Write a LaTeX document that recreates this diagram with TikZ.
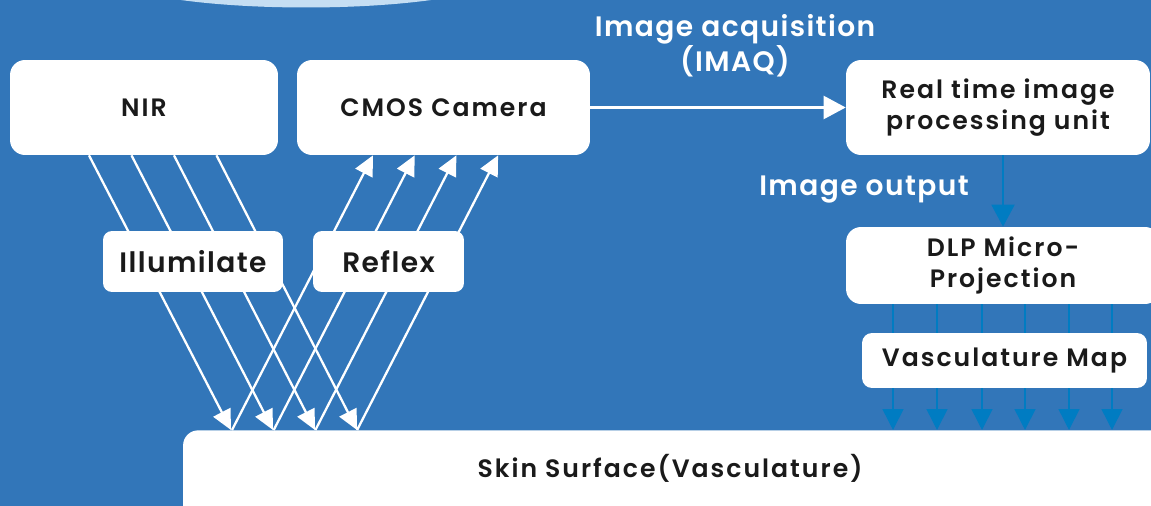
\documentclass[tikz,border=0pt]{standalone}
\usepackage{fontspec}
\setmainfont{Poppins}[BoldFont={Poppins SemiBold}]
\newfontfamily\widefont{Poppins}[BoldFont={Poppins SemiBold},LetterSpace=8]
\newfontfamily\midfont{Poppins}[BoldFont={Poppins SemiBold},LetterSpace=5]
\usetikzlibrary{arrows.meta}

\definecolor{bgblue}{RGB}{50,118,185}
\definecolor{skyblue}{RGB}{197,222,243}
\definecolor{mapblue}{RGB}{0,124,194}
\definecolor{ink}{RGB}{26,26,26}

\tikzset{
    box/.style={fill=white, rounded corners=0.3cm, text=ink, align=center,
        font=\widefont\bfseries\fontsize{14.3}{18}\selectfont, inner sep=0pt},
    tag/.style={box, rounded corners=0.18cm, font=\midfont\bfseries\fontsize{16}{19}\selectfont},
    note/.style={text=white, align=center, font=\midfont\bfseries\fontsize{16}{19.8}\selectfont},
    ray/.style={draw=white, line width=1.3pt, -{Triangle[length=0.4cm,width=0.38cm]}},
    flow/.style={draw=white, line width=1.3pt, -{Triangle[length=0.44cm,width=0.46cm]}},
    beam/.style={draw=mapblue, line width=0.9pt, -{Triangle[length=0.42cm,width=0.42cm]}}
}

\begin{document}
\begin{tikzpicture}[x=0.02cm,y=-0.02cm]
\useasboundingbox (0,0) rectangle (1151,506);
\clip (0,0) rectangle (1151,506);
\fill[bgblue] (0,0) rectangle (1151,506);
\fill[skyblue] (306,-26.5) ellipse [x radius=4cm, y radius=0.68cm];

% boxes
\node[box, minimum width=5.36cm, minimum height=1.9cm] (nir) at (144,107.5) {NIR};
\node[box, minimum width=5.86cm, minimum height=1.9cm] (cmos) at (443.5,107.5) {CMOS Camera};
\node[box, minimum width=6.08cm, minimum height=1.9cm] (rt) at (998,107.5) {Real time image\\processing unit};
\node[box, minimum width=6.28cm, minimum height=1.54cm] (dlp) at (1003,265.5) {DLP Micro-\\Projection};
\node[box, minimum width=19.84cm, minimum height=2cm, anchor=north,
    label={[text=ink, font=\widefont\bfseries\fontsize{14.3}{18}\selectfont, xshift=-0.18cm, yshift=0.24cm]center:Skin Surface(Vasculature)}]
    (skin) at (679,430) {};

% light in and out
\foreach \i in {0,1,2,3}{
    \draw[ray] ({89+42.5*\i},0 |- nir.south) -- ({231+42*\i},0 |- skin.north);
    \draw[ray] ({232+41.7*\i},0 |- skin.north) -- ({373+41.7*\i},0 |- cmos.south);
}
\node[tag, minimum width=3.6cm, minimum height=1.22cm] (illum) at (193,261.5) {Illumilate};
\node[tag, minimum width=3.02cm, minimum height=1.22cm] (reflex) at (388.5,261.5) {Reflex};

% image path
\draw[flow] (cmos.east) -- (rt.west);
\node[note] (imaq) at (735,46) {Image acquisition\\(IMAQ)};
\draw[beam, line width=1.2pt, -{Triangle[length=0.44cm,width=0.46cm]}] (1003,0 |- rt.south) -- (1003,0 |- dlp.north);
\node[note] (imgout) at (864,190) {Image output};

\foreach \x in {893,937,982,1025,1069,1112}
    \draw[beam] (\x,0 |- dlp.south) -- (\x,0 |- skin.north);
\node[box, rounded corners=0.2cm, minimum width=5.7cm, minimum height=1.1cm] (map) at (1004.5,360.5) {Vasculature Map};
\end{tikzpicture}
\end{document}
